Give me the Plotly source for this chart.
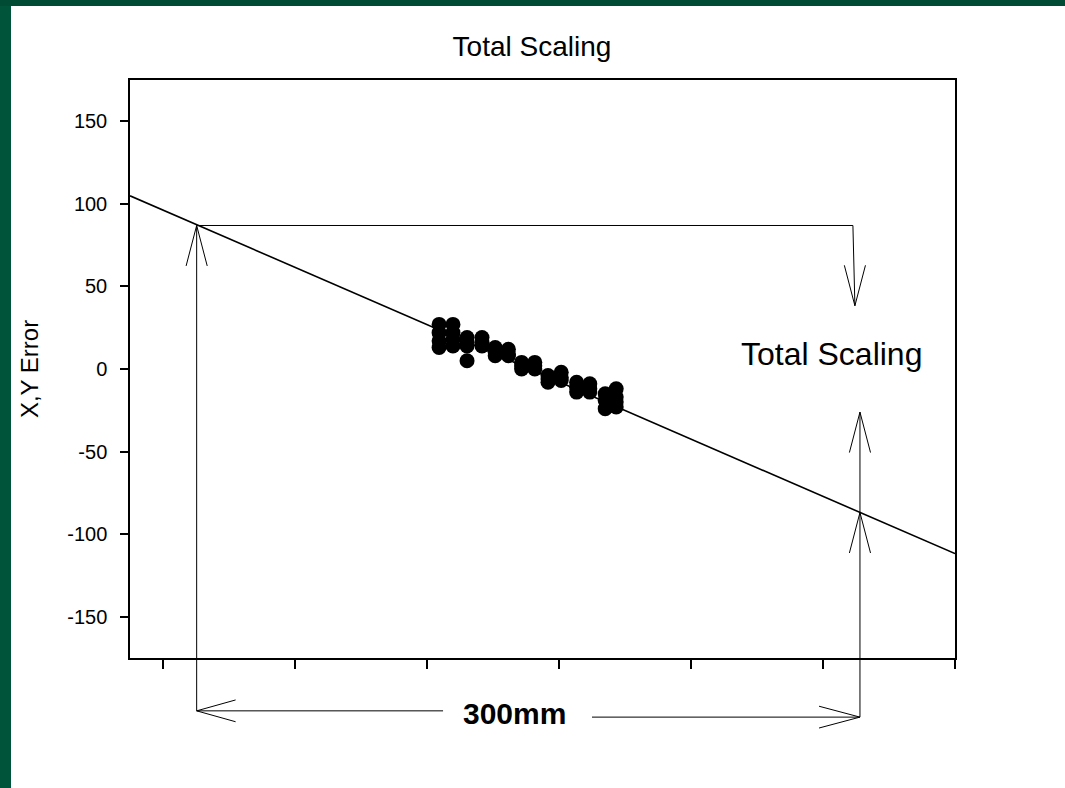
import plotly.graph_objects as go

# ---- data ----
col_x = [125.5, 131.8, 138.2, 145.0, 151.0, 157.0, 163.0, 169.0, 175.0, 181.0, 188.0, 194.0, 201.0, 206.0]
col_y = [
    [27, 22, 17, 13],
    [27, 22, 18, 14],
    [19, 16, 14, 5],
    [19, 16, 14],
    [13, 10, 8],
    [12, 9, 8],
    [4, 2, 0],
    [4, 2, 0],
    [-4, -6, -8],
    [-2, -5, -7],
    [-8, -11, -14],
    [-9, -12, -14],
    [-15, -19, -24],
    [-12, -17, -20, -23],
]
fit_x = [-15, 360]
fit_y = [104.9, -111.8]

x_range = [-15, 360]
y_range = [-175, 175]
x_ticks = [0, 60, 120, 180, 240, 300, 360]
y_ticks = [-150, -100, -50, 0, 50, 100, 150]

# bracket annotation (data units)
left_x = 15.3
right_x = 316.8
top_level = 86.9          # horizontal top line level (fit line at left_x)
drop_x = [313.6, 314.5]   # down-arrow line x (top, tip)
drop_tip = 38.3
up_tip = -26.1
cross_level = -86.9       # fit line at right_x
bottom_left_y = -207.0
bottom_right_y = -210.8
gap_x = [127.3, 195.0]    # gap around "300mm" label
label_pos = [304, 9]      # "Total Scaling" label inside plot

pts_x, pts_y = [], []
for cx, ys in zip(col_x, col_y):
    for v in ys:
        pts_x.append(cx)
        pts_y.append(v)

fig = go.Figure()
fig.add_trace(go.Scatter(x=fit_x, y=fit_y, mode="lines",
                         line=dict(color="black", width=1.6), showlegend=False, hoverinfo="skip"))
fig.add_trace(go.Scatter(x=pts_x, y=pts_y, mode="markers",
                         marker=dict(color="black", size=15), showlegend=False))

def py(v):
    return (v - y_range[0]) / (y_range[1] - y_range[0])

shapes = []
def seg(x0, y0, x1, y1, w=1.0):
    shapes.append(dict(type="line", xref="x", yref="paper", x0=x0, y0=py(y0), x1=x1, y1=py(y1),
                       line=dict(color="black", width=w), layer="above"))

def head(tx, ty, dx, dy):
    seg(tx, ty, tx - dx, ty + dy)
    seg(tx, ty, tx + dx, ty + dy)

wing_dx = 4.8
wing_dy = 24.5
# left vertical with up arrow
seg(left_x, top_level, left_x, bottom_left_y)
head(left_x, top_level, wing_dx, -wing_dy)
# top horizontal and down arrow
seg(left_x, top_level, drop_x[0], top_level)
seg(drop_x[0], top_level, drop_x[1], drop_tip)
head(drop_x[1], drop_tip, wing_dx, wing_dy)
# right vertical with two up arrows
seg(right_x, bottom_right_y, right_x, up_tip)
head(right_x, up_tip, wing_dx, -wing_dy)
head(right_x, cross_level, wing_dx, -wing_dy)
# bottom arrow
seg(left_x, bottom_left_y, gap_x[0], bottom_left_y)
seg(left_x, bottom_left_y, left_x + 17.7, bottom_left_y + 6.6)
seg(left_x, bottom_left_y, left_x + 17.7, bottom_left_y - 6.6)
seg(gap_x[1], bottom_right_y, right_x, bottom_right_y)
seg(right_x, bottom_right_y, right_x - 18.6, bottom_right_y + 6.6)
seg(right_x, bottom_right_y, right_x - 18.6, bottom_right_y - 6.6)

# dark green strips (top and left)
shapes.append(dict(type="rect", xref="paper", yref="paper", x0=-1, x1=(11 - 130) / 825, y0=-1, y1=2,
                   fillcolor="#00543a", line=dict(width=0), layer="below"))
shapes.append(dict(type="rect", xref="paper", yref="paper", x0=-1, x1=2, y0=1 + (80 - 6) / 578, y1=2,
                   fillcolor="#004b33", line=dict(width=0), layer="below"))

FONT = "Liberation Sans, Arial, sans-serif"
annotations = [
    dict(text="Total Scaling", x=label_pos[0], y=label_pos[1], xref="x", yref="y", showarrow=False,
         xanchor="center", yanchor="middle",
         font=dict(size=32, color="black", family=FONT)),
    dict(text="<b>300mm</b>", x=(gap_x[0] + gap_x[1]) / 2 - 1.5, y=py((bottom_left_y + bottom_right_y) / 2),
         xref="x", yref="paper", showarrow=False, xanchor="center", yanchor="middle",
         font=dict(size=30, color="black", family=FONT)),
]

fig.update_layout(
    width=1065, height=788,
    margin=dict(l=130, r=110, t=80, b=130),
    paper_bgcolor="white", plot_bgcolor="white",
    title=dict(text="Total Scaling", x=532 / 1065, xanchor="center", y=1 - 46 / 788, yanchor="middle",
               font=dict(size=28, color="black", family=FONT)),
    font=dict(family=FONT, color="black"),
    shapes=shapes, annotations=annotations,
    xaxis=dict(range=x_range, tickvals=x_ticks, showticklabels=False, ticks="outside", ticklen=9,
               tickwidth=1.5, tickcolor="black", showline=True, linecolor="black", linewidth=1.5,
               mirror=True, showgrid=False, zeroline=False),
    yaxis=dict(range=y_range, tickvals=y_ticks, ticktext=[str(v) for v in y_ticks], ticks="outside",
               ticklen=8, tickwidth=1.5, tickcolor="black", showline=True, linecolor="black",
               linewidth=1.5, mirror=True, showgrid=False, zeroline=False, ticklabelstandoff=9,
               tickfont=dict(size=20), title=dict(text="X,Y Error", font=dict(size=24), standoff=22)),
)

fig.write_html("out.html")
